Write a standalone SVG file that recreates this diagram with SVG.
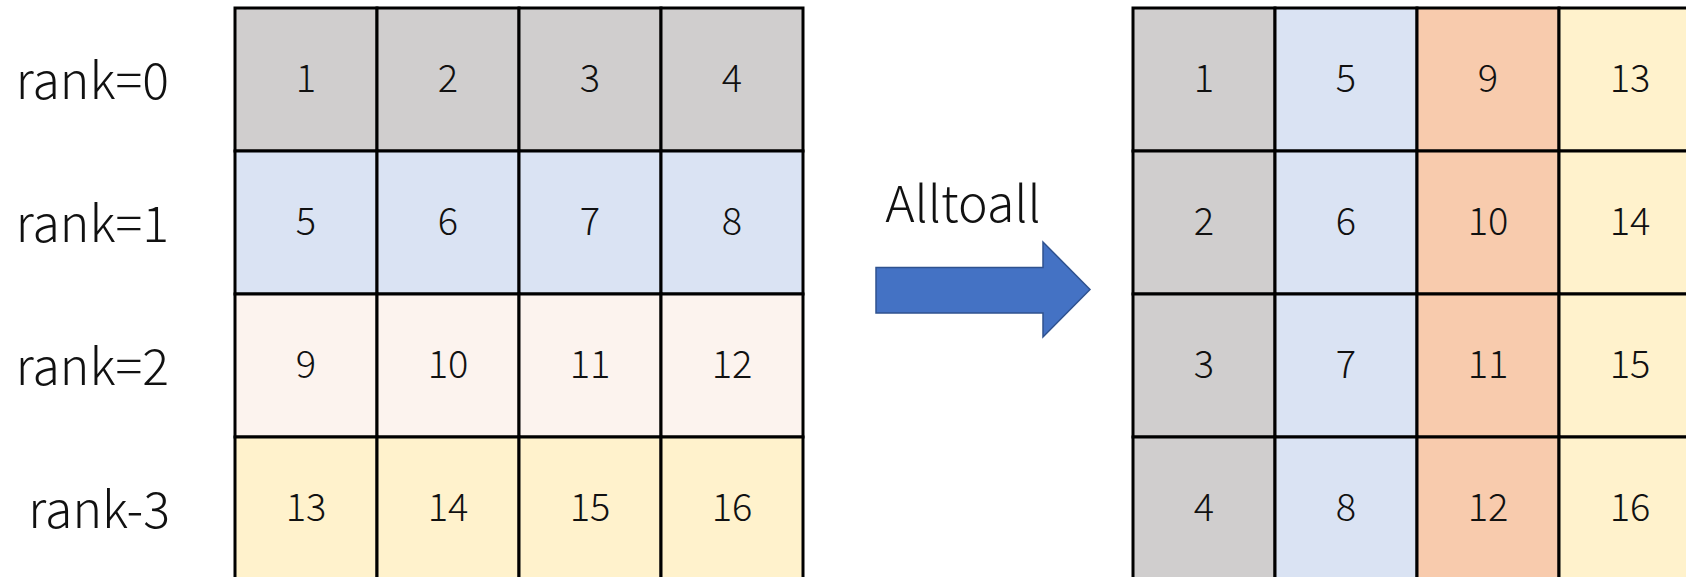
<svg xmlns="http://www.w3.org/2000/svg" width="1686" height="577" viewBox="0 0 1686 577">
<style>
.c{stroke:#000;stroke-width:3}
.g{fill:#D0CECE}.b{fill:#DAE3F3}.p{fill:#FCF3EE}.o{fill:#F8CBAD}.y{fill:#FFF2CC}
.n{font-family:"Noto Sans CJK JP","Noto Sans",sans-serif;font-weight:300;font-size:38px;fill:#111;text-anchor:middle}
.l{font-family:"Noto Sans CJK JP","Noto Sans",sans-serif;font-weight:300;font-size:50px;fill:#111}
</style>
<rect width="1686" height="577" fill="#fff"/>
<g id="labels">
<text class="l" x="169" y="98.5" text-anchor="end">rank=0</text>
<text class="l" x="169" y="241.5" text-anchor="end">rank=1</text>
<text class="l" x="169" y="384.5" text-anchor="end">rank=2</text>
<text class="l" x="170" y="527.5" text-anchor="end">rank-3</text>
<text class="l" x="963" y="222" text-anchor="middle" font-size="48">Alltoall</text>
</g>
<g id="left-grid">
<g id="L1"><rect class="c g" x="235" y="8" width="142" height="143"/><text class="n" x="306" y="92">1</text></g>
<g id="L2"><rect class="c g" x="377" y="8" width="142" height="143"/><text class="n" x="448" y="92">2</text></g>
<g id="L3"><rect class="c g" x="519" y="8" width="142" height="143"/><text class="n" x="590" y="92">3</text></g>
<g id="L4"><rect class="c g" x="661" y="8" width="142" height="143"/><text class="n" x="732" y="92">4</text></g>
<g id="L5"><rect class="c b" x="235" y="151" width="142" height="143"/><text class="n" x="306" y="235">5</text></g>
<g id="L6"><rect class="c b" x="377" y="151" width="142" height="143"/><text class="n" x="448" y="235">6</text></g>
<g id="L7"><rect class="c b" x="519" y="151" width="142" height="143"/><text class="n" x="590" y="235">7</text></g>
<g id="L8"><rect class="c b" x="661" y="151" width="142" height="143"/><text class="n" x="732" y="235">8</text></g>
<g id="L9"><rect class="c p" x="235" y="294" width="142" height="143"/><text class="n" x="306" y="378">9</text></g>
<g id="L10"><rect class="c p" x="377" y="294" width="142" height="143"/><text class="n" x="448" y="378">10</text></g>
<g id="L11"><rect class="c p" x="519" y="294" width="142" height="143"/><text class="n" x="590" y="378">11</text></g>
<g id="L12"><rect class="c p" x="661" y="294" width="142" height="143"/><text class="n" x="732" y="378">12</text></g>
<g id="L13"><rect class="c y" x="235" y="437" width="142" height="143"/><text class="n" x="306" y="521">13</text></g>
<g id="L14"><rect class="c y" x="377" y="437" width="142" height="143"/><text class="n" x="448" y="521">14</text></g>
<g id="L15"><rect class="c y" x="519" y="437" width="142" height="143"/><text class="n" x="590" y="521">15</text></g>
<g id="L16"><rect class="c y" x="661" y="437" width="142" height="143"/><text class="n" x="732" y="521">16</text></g>
</g>
<g id="right-grid">
<g id="R1"><rect class="c g" x="1133" y="8" width="142" height="143"/><text class="n" x="1204" y="92">1</text></g>
<g id="R5"><rect class="c b" x="1275" y="8" width="142" height="143"/><text class="n" x="1346" y="92">5</text></g>
<g id="R9"><rect class="c o" x="1417" y="8" width="142" height="143"/><text class="n" x="1488" y="92">9</text></g>
<g id="R13"><rect class="c y" x="1559" y="8" width="142" height="143"/><text class="n" x="1630" y="92">13</text></g>
<g id="R2"><rect class="c g" x="1133" y="151" width="142" height="143"/><text class="n" x="1204" y="235">2</text></g>
<g id="R6"><rect class="c b" x="1275" y="151" width="142" height="143"/><text class="n" x="1346" y="235">6</text></g>
<g id="R10"><rect class="c o" x="1417" y="151" width="142" height="143"/><text class="n" x="1488" y="235">10</text></g>
<g id="R14"><rect class="c y" x="1559" y="151" width="142" height="143"/><text class="n" x="1630" y="235">14</text></g>
<g id="R3"><rect class="c g" x="1133" y="294" width="142" height="143"/><text class="n" x="1204" y="378">3</text></g>
<g id="R7"><rect class="c b" x="1275" y="294" width="142" height="143"/><text class="n" x="1346" y="378">7</text></g>
<g id="R11"><rect class="c o" x="1417" y="294" width="142" height="143"/><text class="n" x="1488" y="378">11</text></g>
<g id="R15"><rect class="c y" x="1559" y="294" width="142" height="143"/><text class="n" x="1630" y="378">15</text></g>
<g id="R4"><rect class="c g" x="1133" y="437" width="142" height="143"/><text class="n" x="1204" y="521">4</text></g>
<g id="R8"><rect class="c b" x="1275" y="437" width="142" height="143"/><text class="n" x="1346" y="521">8</text></g>
<g id="R12"><rect class="c o" x="1417" y="437" width="142" height="143"/><text class="n" x="1488" y="521">12</text></g>
<g id="R16"><rect class="c y" x="1559" y="437" width="142" height="143"/><text class="n" x="1630" y="521">16</text></g>
</g>
<g id="connectors">
<polygon points="876,267.5 1043,267.5 1043,242 1090,289.5 1043,337 1043,313 876,313" fill="#4472C4" stroke="#2F528F" stroke-width="1.5"/>
</g>
</svg>
